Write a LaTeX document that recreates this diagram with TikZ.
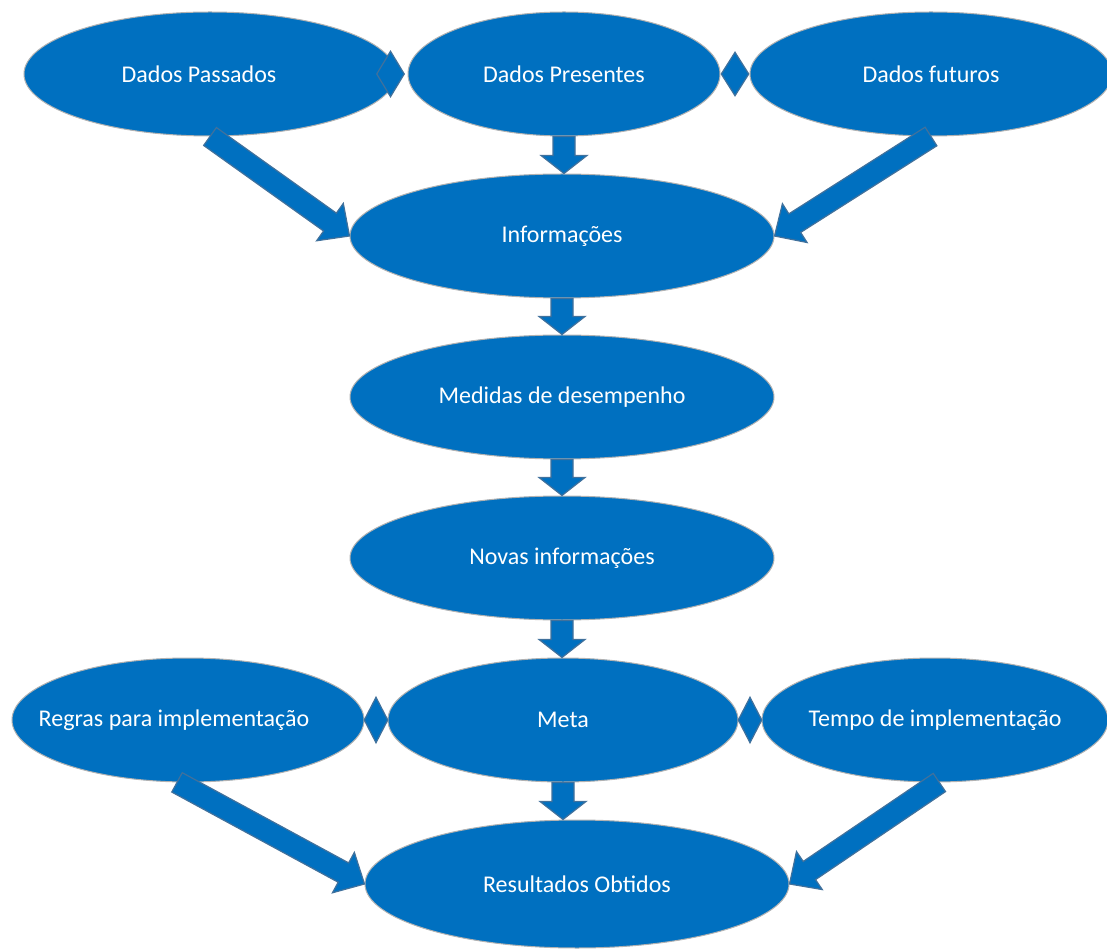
\documentclass[tikz,border=0pt]{standalone}
\usepackage{fontspec}
\setmainfont{Carlito}
\usetikzlibrary{shapes.geometric, calc}
\usepackage{xcolor}

\definecolor{wordblue}{HTML}{0070C0}
\definecolor{arrowedge}{HTML}{41719C}

% block arrow: [head length]{from}{to}
\newcommand{\blockarrow}[3][12pt]{%
  \coordinate (ba-s) at (#2);
  \coordinate (ba-e) at (#3);
  \coordinate (ba-h) at ($(ba-e)!#1!(ba-s)$);
  \draw[bigarrow] ($(ba-s)!5.5pt!90:(ba-e)$) -- ($(ba-h)!5.5pt!90:(ba-e)$)
    -- ($(ba-h)!11.5pt!90:(ba-e)$) -- (ba-e) -- ($(ba-h)!11.5pt!-90:(ba-e)$)
    -- ($(ba-h)!5.5pt!-90:(ba-e)$) -- ($(ba-s)!5.5pt!-90:(ba-e)$) -- cycle;
}

\tikzset{
  bubble/.style={ellipse, fill=wordblue, draw=white!70!black, line width=0.5pt,
    text=white, font=\fontsize{12}{14}\selectfont, inner sep=0pt, minimum height=62pt},
  linkdiamond/.style={diamond, fill=wordblue, draw=arrowedge, line width=0.6pt,
    inner sep=0pt, minimum width=14pt, minimum height=23pt},
  bigarrow/.style={fill=wordblue, draw=arrowedge, line width=0.6pt, line join=miter}
}

\begin{document}
\begin{tikzpicture}[x=0.5pt, y=-0.5pt]
    \useasboundingbox (0,0) rectangle (1107,951);
    % Data sources
    \node[bubble, minimum width=186pt] (pas) at (210,74) {\makebox[0pt]{Dados Passados\hspace{11pt}}};
    \node[bubble, minimum width=156pt] (pre) at (564,74) {\makebox[0pt]{Dados Presentes}};
    \node[bubble, minimum width=181pt] (fut) at (931,74) {\makebox[0pt]{Dados futuros}};
    % Middle column
    \node[bubble, minimum width=212pt] (inf) at (562,236) {\makebox[0pt]{Informações}};
    \node[bubble, minimum width=212pt] (med) at (562,397) {\makebox[0pt]{Medidas de desempenho}};
    \node[bubble, minimum width=212pt] (nov) at (562,558) {\makebox[0pt]{Novas informações}};
    % Goal row
    \node[bubble, minimum width=176pt] (reg) at (188,720) {\makebox[0pt]{Regras para implementação\hspace{14pt}}};
    \node[bubble, minimum width=175pt] (meta) at (563,720) {\makebox[0pt]{Meta}};
    \node[bubble, minimum width=173pt] (tem) at (935,720) {\makebox[0pt]{Tempo de implementação}};
    % Result
    \node[bubble, minimum width=212pt, minimum height=64pt] (res) at (577,884) {\makebox[0pt]{Resultados Obtidos}};

    % Diagonal arrows
    \blockarrow{pas.-90}{inf.west}
    \blockarrow{fut.-90}{inf.east}
    \blockarrow{reg.-100}{res.west}
    \blockarrow{tem.-86}{res.east}
    % Vertical arrows
    \blockarrow[9pt]{pre.south}{pre.south |- inf.north}
    \blockarrow[9pt]{inf.south}{inf.south |- med.north}
    \blockarrow[9pt]{med.south}{med.south |- nov.north}
    \blockarrow[9pt]{nov.south}{nov.south |- meta.north}
    \blockarrow[9pt]{meta.south}{meta.south |- res.north}

    % Links between neighbours
    \node[linkdiamond] (d1) at ($(pre.west)+(-17,0)$) {};
    \node[linkdiamond, minimum height=22pt] (d2) at ($(pre.east)!0.5!(fut.west)$) {};
    \node[linkdiamond, minimum width=12pt] (d3) at ($(reg.east)!0.5!(meta.west)$) {};
    \node[linkdiamond, minimum width=12pt] (d4) at ($(meta.east)!0.5!(tem.west)$) {};
\end{tikzpicture}
\end{document}
